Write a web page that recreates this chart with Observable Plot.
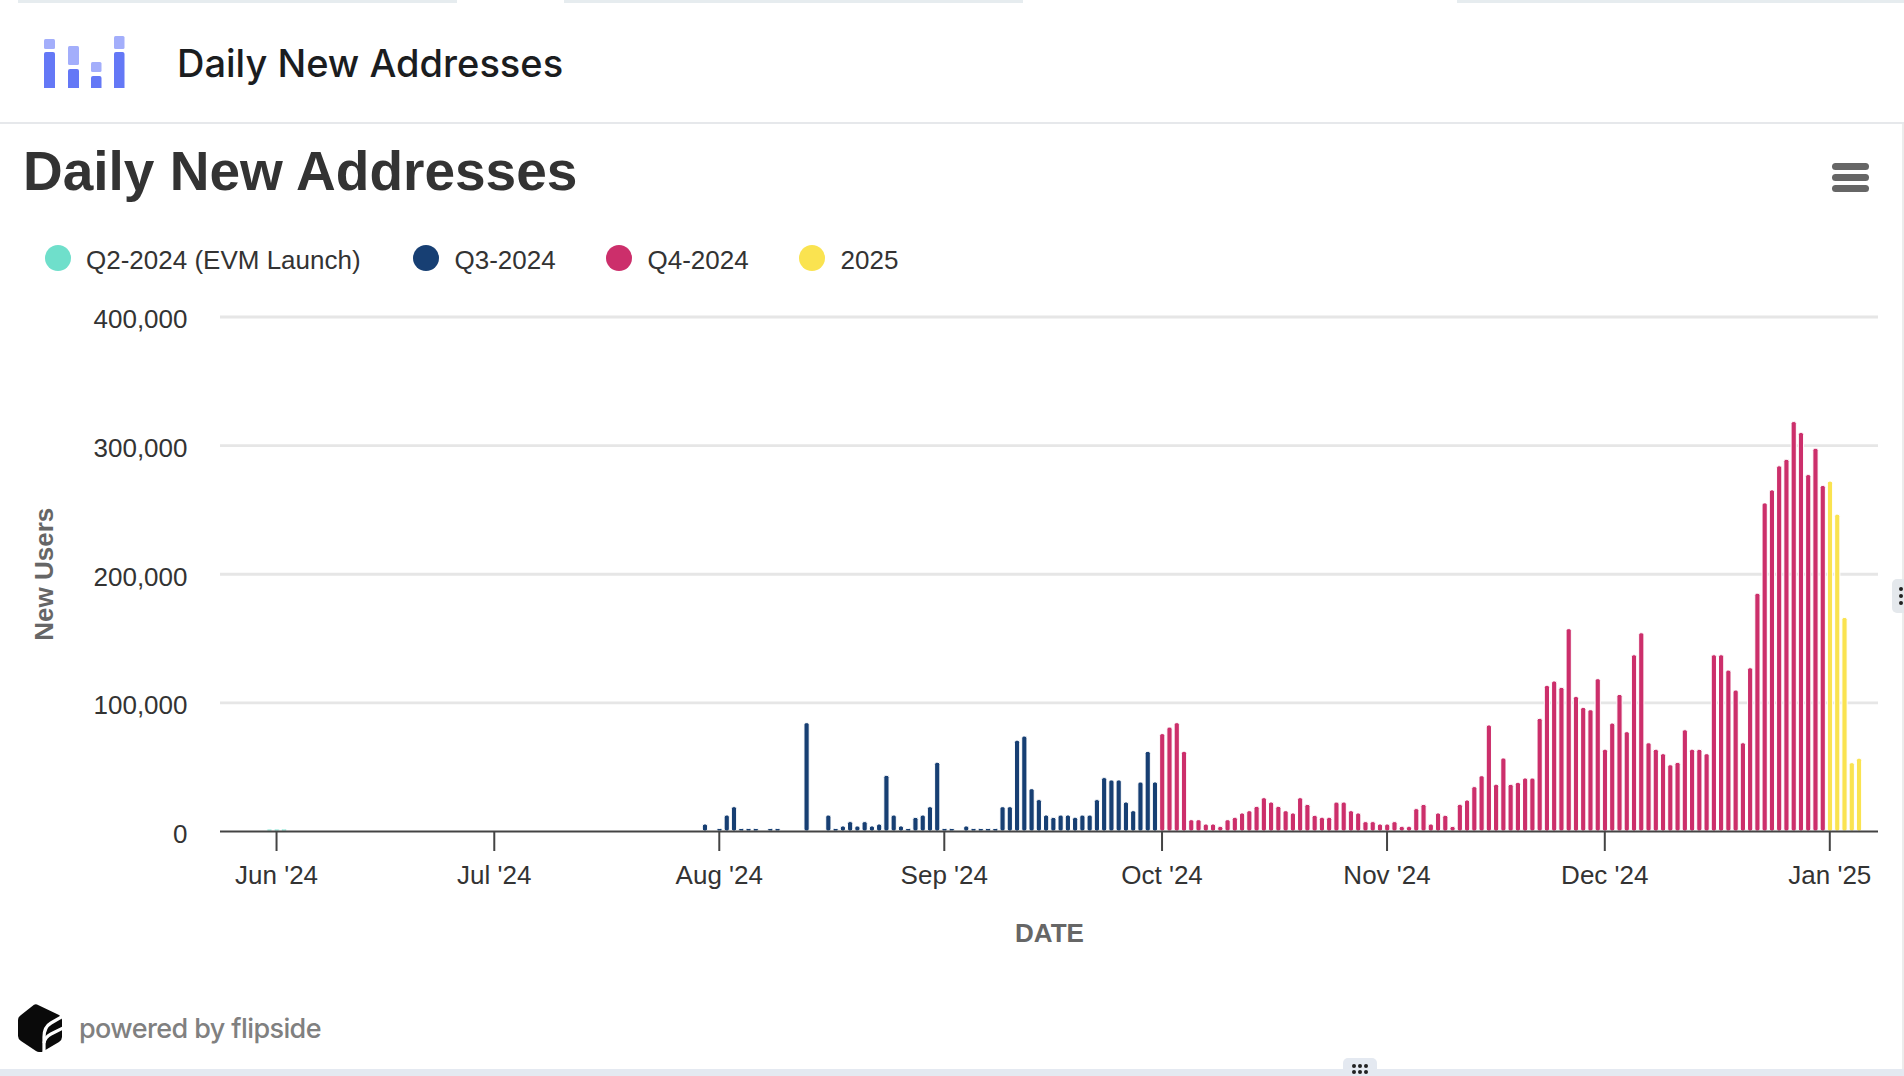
<!DOCTYPE html>
<html>
<head>
<meta charset="utf-8">
<script src="https://cdn.jsdelivr.net/npm/d3@7"></script>
<script src="https://cdn.jsdelivr.net/npm/@observablehq/plot@0.6"></script>
<style>
html,body{margin:0;padding:0;background:#fff;width:1904px;height:1076px;overflow:hidden;font-family:"Liberation Sans",Arial,sans-serif}
.abs{position:absolute}
.t{position:absolute;white-space:nowrap;transform:translateY(-50%);line-height:1}
#chart{position:absolute;left:0;top:280px}
#chart svg{display:block}
</style>
</head>
<body>
<div class="abs" style="left:18px;top:0;width:439px;height:2.5px;background:#e6ecef"></div>
<div class="abs" style="left:564px;top:0;width:459px;height:2.5px;background:#e6ecef"></div>
<div class="abs" style="left:1457px;top:0;width:447px;height:2.5px;background:#e6ecef"></div>

<svg class="abs" style="left:40px;top:30px" width="90" height="62" viewBox="40 30 90 62">
  <g fill="#a3aefb">
    <rect x="44" y="39" width="11" height="10" rx="1.5"/><rect x="68" y="46" width="11" height="19" rx="1.5"/>
    <rect x="91" y="62" width="10.500" height="10" rx="1.5"/><rect x="114" y="36" width="10.500" height="13" rx="1.5"/>
  </g>
  <g fill="#6478f6">
    <path d="M44 88V54a2 2 0 0 1 2-2h7a2 2 0 0 1 2 2V88z"/><path d="M68 88V71a2 2 0 0 1 2-2h7a2 2 0 0 1 2 2V88z"/>
    <path d="M91 88V78a2 2 0 0 1 2-2h6.500a2 2 0 0 1 2 2V88z"/><path d="M114 88V54a2 2 0 0 1 2-2h6.500a2 2 0 0 1 2 2V88z"/>
  </g>
</svg>
<div class="t" style="left:177px;top:63px;font:500 38px Inter,sans-serif;color:#1b1d1f">Daily New Addresses</div>
<div class="abs" style="left:0;top:122px;width:1904px;height:2px;background:#e6e8eb"></div>
<div class="abs" style="left:1902px;top:124px;width:2px;height:945px;background:#ececec"></div>

<div class="t" style="left:23px;top:171px;font-weight:700;font-size:55px;color:#333">Daily New Addresses</div>
<svg class="abs" style="left:1830px;top:160px" width="42" height="36">
  <rect x="2" y="3" width="37" height="7" rx="3.500" fill="#666"/><rect x="2" y="14" width="37" height="7" rx="3.500" fill="#666"/><rect x="2" y="25" width="37" height="7" rx="3.500" fill="#666"/>
</svg>
<div id="legend"></div>
<div id="chart"></div>

<svg class="abs" style="left:18px;top:1004px" width="44" height="48" viewBox="0 0 44 48">
  <path d="M19 0.500 L41 11 Q44 13 44 16 V33 Q44 36 41 38 L24 48 Q21 48.500 18 47 L3 37 Q0 35 0 32 V16 Q0 13 3 11 L16 0.800 Q17.500 0 19 0.500z" fill="#0a0a0a"/>
  <path d="M26 48 V33 Q26 23 33 19 L45 12" fill="none" stroke="#fff" stroke-width="3.200"/>
  <path d="M26 39 Q27 33 33 30 L45 24" fill="none" stroke="#fff" stroke-width="3.200"/>
</svg>
<div class="t" style="left:79px;top:1028px;font:500 27px Inter,sans-serif;letter-spacing:-.6px;color:#808080">powered by flipside</div>
<div class="abs" style="left:0;top:1069px;width:1904px;height:7px;background:#e4e9f1"></div>
<div class="abs" style="left:1343px;top:1058px;width:34px;height:18px;background:#e4e9f1;border-radius:5px 5px 0 0"></div>
<svg class="abs" style="left:1343px;top:1058px" width="34" height="18">
  <g fill="#222"><circle cx="11" cy="8" r="2"/><circle cx="17" cy="8" r="2"/><circle cx="23" cy="8" r="2"/><circle cx="11" cy="14" r="2"/><circle cx="17" cy="14" r="2"/><circle cx="23" cy="14" r="2"/></g>
</svg>
<div class="abs" style="left:1892px;top:579px;width:12px;height:34px;background:#e4e8ec;border-radius:5px 0 0 5px"></div>
<svg class="abs" style="left:1892px;top:579px" width="12" height="34">
  <g fill="#222"><circle cx="9" cy="10" r="2"/><circle cx="9" cy="17" r="2"/><circle cx="9" cy="24" r="2"/></g>
</svg>

<script>
const seriesNames = ["Q2-2024 (EVM Launch)", "Q3-2024", "Q4-2024", "2025"];
const seriesColors = ["#6fdfcb", "#173f73", "#cc2f6b", "#fae350"];

// Daily values, one per consecutive day from the start date (0 = no visible bar)
const q2Start = "2024-05-31";
const q2Values = [1500, 1500, 1500];
const q3Start = "2024-07-30";
const q3Values = [5400, 0, 2000, 12400, 18900, 2000, 2000, 2000, 0, 2000, 2000, 0, 0, 0, 84200, 0, 0, 12400, 2000, 3900, 7300, 3900, 7300, 3900, 5400, 43300, 12400, 3900, 2000, 10600, 12400, 18900, 53400, 2000, 2000, 0, 3900, 2000, 2000, 2000, 2000, 18900, 18900, 70500, 73800, 32900, 24400, 12400, 10600, 12400, 12400, 10600, 12400, 12400, 24400, 41500, 39700, 39700, 22500, 15800, 38100, 61900, 38100];
const q4Start = "2024-10-01";
const q4Values = [75700, 80800, 84200, 61900, 8800, 8800, 5400, 5400, 3600, 8800, 10600, 14000, 15800, 19200, 25900, 22500, 19200, 15800, 14000, 25900, 20700, 12200, 10600, 10600, 22500, 22500, 15800, 14000, 7300, 7300, 5400, 5400, 7300, 3600, 3600, 17400, 20700, 5400, 14000, 12200, 3600, 20700, 24100, 34500, 43000, 82400, 36300, 56800, 36300, 37800, 41200, 41200, 87600, 113200, 116600, 111700, 157300, 104600, 96100, 94300, 118400, 63500, 83900, 106200, 77200, 137000, 154100, 68600, 63500, 60100, 51500, 53400, 78700, 63500, 63500, 60100, 137000, 137000, 125100, 109600, 68600, 126900, 184900, 255100, 265200, 283900, 289000, 318300, 309800, 277100, 297600, 268600];
const y2025Start = "2025-01-01";
const y2025Values = [272000, 246300, 166000, 53100, 56500];

const monthTicks = ["2024-06-01", "2024-07-01", "2024-08-01", "2024-09-01", "2024-10-01", "2024-11-01", "2024-12-01", "2025-01-01"];
const yTicks = [0, 100000, 200000, 300000, 400000];

const DAY = 86400000;
const rows = [[q2Start, q2Values], [q3Start, q3Values], [q4Start, q4Values], [y2025Start, y2025Values]]
  .flatMap(([start, vals], s) => vals.map((v, i) => ({
    date: new Date(+new Date(start + "T00:00:00Z") + i * DAY), value: v, series: seriesNames[s]
  }))).filter(d => d.value > 0);

document.getElementById("legend").innerHTML = seriesNames.map((n, i) => {
  const cx = [57.5, 426, 619, 812][i];
  return `<div class="abs" style="left:${cx - 13}px;top:245px;width:26px;height:26px;border-radius:50%;background:${seriesColors[i]}"></div>` +
    `<div class="t" style="left:${cx + 28.5}px;top:260px;font-size:26px;color:#333">${n}</div>`;
}).join("");

const fontFamily = '"Liberation Sans", Arial, sans-serif';
const chart = Plot.plot({
  width: 1904, height: 680,
  marginLeft: 220, marginRight: 26, marginTop: 36.5, marginBottom: 129,
  style: {fontFamily, background: "transparent", color: "#333"},
  x: {type: "utc", domain: [new Date(+new Date("2024-06-01T00:00:00Z") - 7.72 * DAY), new Date(+new Date("2025-01-01T00:00:00Z") + 6.71 * DAY)]},
  y: {domain: [0, 400000]},
  color: {domain: seriesNames, range: seriesColors},
  marks: [
    Plot.ruleY(yTicks.slice(1), {stroke: "#e6e6e6", strokeWidth: 2.8}),
    Plot.rectY(rows, {
      x1: d => new Date(+d.date - 0.36 * DAY + 0.7 / 7.258 * DAY),
      x2: d => new Date(+d.date + 0.36 * DAY + 0.7 / 7.258 * DAY),
      y: "value", fill: "series", stroke: "#fff", strokeWidth: 1, r: 2
    }),
    Plot.ruleY([0], {stroke: "#444", strokeWidth: 2.2}),
    Plot.axisX({
      anchor: "bottom", ticks: monthTicks.map(d => new Date(d + "T00:00:00Z")),
      tickFormat: d3.utcFormat("%b '%y"), tickSize: 20, tickPadding: 14,
      fontSize: 26, stroke: "#444", fill: "#333", strokeWidth: 2, label: null
    }),
    Plot.axisY({
      anchor: "left", ticks: yTicks, tickFormat: d3.format(","), tickSize: 0, tickPadding: 33,
      fontSize: 26, fill: "#333", label: null, dy: 3
    }),
    Plot.text(["DATE"], {frameAnchor: "bottom", dy: 110, fontSize: 26, fontWeight: "bold", fill: "#666"}),
    Plot.text(["New Users"], {frameAnchor: "left", textAnchor: "middle", dx: -176, rotate: -90, fontSize: 26, fontWeight: "bold", fill: "#666"})
  ]
});
document.getElementById("chart").appendChild(chart);
</script>
</body>
</html>
